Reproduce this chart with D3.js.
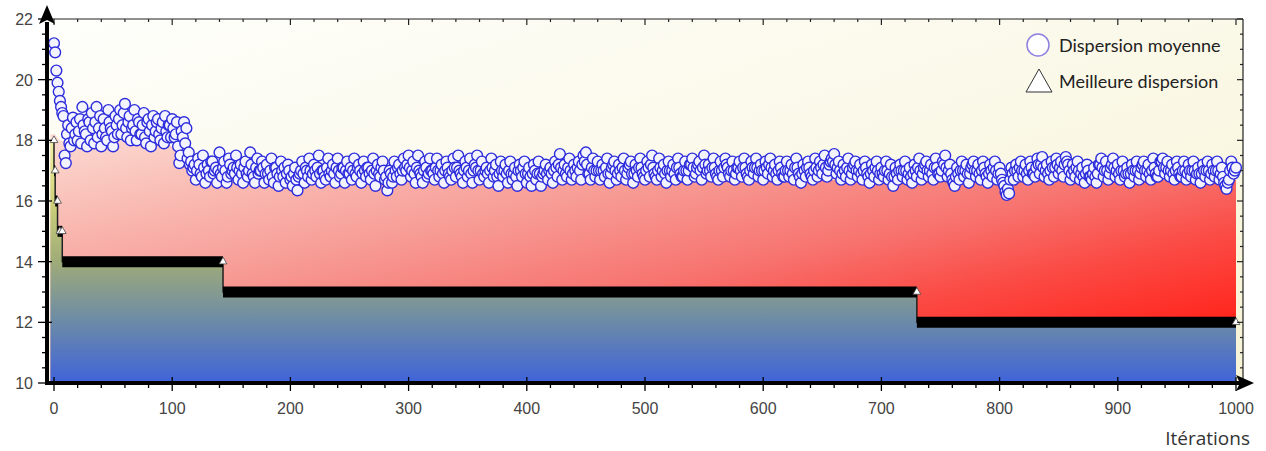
<!DOCTYPE html>
<html><head><meta charset="utf-8">
<script src="https://cdn.jsdelivr.net/npm/d3@7"></script>
<style>body{margin:0;background:#fff}svg{display:block}</style>
</head><body><svg id="c" width="1266" height="451"></svg>
<script>
// ---------- data ----------
// mean dispersion, even iterations 0,2,...,1000
const evenIterations = d3.range(0, 1001, 2);
const meanDispersionEven = [
21.2,20.3,19.6,19.1,18.8,17.25,18.5,17.8,18.75,18.2,
18.0,18.7,19.1,18.3,17.8,18.6,18.9,17.9,19.1,18.4,
17.8,18.7,18.1,19.0,18.4,17.8,18.8,18.2,19.0,18.5,
19.2,18.1,18.8,18.4,19.0,18.0,18.6,18.2,18.9,17.9,
18.7,17.8,18.8,18.3,18.7,18.0,18.6,18.8,18.1,18.5,
18.7,18.1,18.6,17.25,18.3,18.6,18.4,17.6,17.3,17.1,
16.7,17.4,16.9,17.5,16.6,17.2,16.8,17.3,17.0,16.6,
17.6,16.8,17.3,16.6,17.4,16.9,17.1,17.5,16.7,17.2,
16.6,17.3,16.8,17.6,16.9,16.6,17.4,17.0,17.3,16.6,
17.2,16.7,17.4,16.6,17.1,16.5,17.3,16.8,16.6,17.2,
16.7,16.5,17.1,16.35,16.9,17.3,16.6,17.0,17.4,16.7,
17.2,16.8,17.5,16.6,17.0,16.7,17.4,16.8,17.2,16.6,
17.4,16.8,17.1,16.6,17.3,16.9,16.7,17.4,16.8,17.2,
16.6,17.3,16.8,17.1,16.7,17.4,16.5,17.2,16.8,17.3,
16.7,16.35,17.0,16.6,17.3,16.8,17.2,16.7,17.4,17.0,
17.5,16.8,17.3,16.6,17.5,16.9,16.6,17.3,16.8,17.4,
17.0,16.7,17.4,16.8,17.2,16.6,17.3,16.9,16.7,17.4,
16.8,17.5,16.9,16.6,17.3,16.8,17.4,16.6,17.2,17.5,
16.7,17.3,16.8,17.1,16.6,17.4,16.8,17.2,16.5,17.3,
16.8,17.2,16.6,17.3,16.7,17.1,16.5,17.2,16.8,17.3,
16.6,17.1,16.5,17.2,16.7,17.3,16.5,16.9,17.2,16.7,
17.1,16.6,17.3,16.8,17.55,16.7,17.2,16.8,17.4,16.7,
17.2,16.8,17.3,16.7,17.5,17.6,16.9,16.7,17.4,16.8,
17.3,16.7,17.2,16.8,17.4,16.6,17.1,17.3,16.7,17.2,
16.8,17.4,16.7,17.1,17.3,16.6,17.2,16.8,17.4,16.9,
16.7,17.3,16.8,17.5,16.9,16.7,17.4,16.8,17.2,16.6,
17.3,16.8,17.2,16.7,17.4,16.9,16.8,17.3,16.7,17.2,
17.4,16.8,17.1,17.3,16.7,17.5,16.9,17.2,16.8,17.4,
16.9,16.7,17.3,16.8,17.4,17.1,16.8,17.3,16.7,17.1,
17.3,16.8,17.4,16.9,16.7,17.3,16.9,17.4,16.8,17.2,
16.7,17.3,16.9,17.4,16.8,17.2,16.7,17.3,16.9,16.8,
17.3,16.8,17.2,16.7,17.4,16.9,16.6,17.2,16.8,17.3,
16.9,16.7,17.4,16.8,17.3,16.9,17.5,16.8,17.2,17.4,
17.55,16.9,17.3,16.7,17.2,16.8,17.4,16.7,17.1,17.3,
16.8,17.2,16.7,17.3,16.9,16.6,17.2,16.8,17.3,16.7,
17.1,16.8,17.3,16.7,17.2,16.5,17.1,16.7,17.2,16.8,
17.3,16.7,17.1,16.6,17.2,16.8,17.4,16.7,17.1,17.3,
16.8,17.2,16.7,17.4,16.9,16.8,17.3,17.5,16.8,17.2,
16.7,16.5,17.1,16.7,17.3,16.8,17.2,16.6,17.1,17.3,
16.8,17.2,16.7,17.3,16.9,16.6,17.2,16.8,17.3,16.7,
17.1,16.7,16.5,16.2,16.25,17.1,16.7,17.2,16.8,17.3,
16.8,17.2,16.7,17.3,16.9,16.8,17.4,16.9,17.45,16.8,
17.2,16.7,17.3,16.8,17.4,16.9,17.3,16.8,17.45,17.2,
16.7,17.2,16.8,17.3,16.7,17.1,16.6,17.2,16.8,16.7,
17.1,16.6,17.2,17.4,16.8,17.3,16.7,17.1,17.4,16.8,
17.2,16.7,17.3,16.8,17.1,16.6,17.2,16.8,17.3,16.7,
17.1,17.3,16.8,17.2,16.7,17.4,16.9,16.8,17.3,17.4,
16.9,17.3,16.8,17.2,16.7,17.3,16.9,16.8,17.3,16.7,
17.2,16.8,17.3,16.7,17.1,16.6,17.2,16.8,17.3,16.7,
17.2,16.8,17.3,16.7,17.1,16.6,16.4,16.7,17.3,16.9,
17.1];
// mean dispersion, odd iterations 1,3,...,999
const oddIterations = d3.range(1, 1000, 2);
const meanDispersionOdd = [
20.9,19.9,19.3,18.9,17.5,18.2,17.9,18.4,18.0,18.6,
18.3,17.9,18.5,18.2,18.7,18.0,18.4,18.6,18.1,18.8,
18.2,18.4,18.0,18.6,18.3,18.1,18.5,18.7,18.2,18.9,
18.4,18.6,18.0,18.5,18.3,18.7,18.2,18.5,18.1,18.6,
18.3,18.5,18.1,18.6,18.2,18.4,17.9,18.3,18.5,18.1,
18.4,18.2,17.8,17.5,18.1,17.9,17.4,17.2,17.0,17.2,
17.0,17.2,16.8,17.1,16.9,17.0,17.3,16.9,17.1,17.0,
16.9,17.1,17.0,16.8,17.2,17.0,16.9,17.1,17.0,16.9,
17.1,16.9,17.0,17.2,16.8,17.1,16.9,17.0,17.1,16.9,
16.9,17.0,16.8,17.1,16.9,16.8,17.0,17.1,16.9,17.0,
16.8,16.9,16.7,16.8,17.0,16.9,17.1,16.8,17.0,16.9,
17.0,17.1,16.9,17.0,16.8,17.1,16.9,17.0,16.9,17.1,
17.0,16.9,17.1,17.0,16.9,17.1,17.0,16.9,17.1,17.0,
16.9,17.0,17.1,16.9,17.0,16.9,17.0,16.9,17.1,17.0,
16.8,16.6,16.9,16.8,17.0,17.1,16.9,17.0,17.1,17.2,
17.1,17.0,16.9,17.1,17.0,16.8,17.0,17.1,16.9,17.0,
16.9,17.1,17.0,17.0,16.9,17.0,17.1,16.8,17.0,17.1,
17.1,17.0,16.8,17.0,17.1,17.0,16.9,17.0,17.1,17.0,
17.0,16.9,17.0,16.9,17.0,17.1,17.0,16.8,16.9,17.0,
17.0,16.9,17.0,16.9,16.9,16.8,17.0,17.0,17.1,16.9,
16.9,16.8,16.9,17.0,16.9,16.9,16.8,17.0,16.9,17.0,
16.9,17.0,17.1,17.2,17.1,17.0,16.9,17.1,17.0,16.9,
17.0,17.1,17.0,17.2,17.3,17.2,16.9,17.1,17.0,17.0,
17.0,17.0,17.0,17.1,16.9,16.9,17.2,17.0,16.9,17.0,
17.1,17.0,16.9,17.2,16.9,16.9,17.0,17.1,17.1,16.8,
17.0,17.1,17.2,17.1,16.8,17.0,17.1,17.0,16.9,17.0,
17.0,17.0,16.9,17.1,17.1,16.8,17.0,17.0,17.0,17.2,
17.1,16.9,17.2,17.0,17.1,17.2,17.0,17.0,17.1,17.1,
16.8,17.0,17.0,17.1,17.2,16.9,17.0,17.0,16.9,17.1,
17.0,17.1,17.1,16.8,17.0,17.1,17.1,17.1,17.0,17.0,
17.0,17.1,17.2,17.1,17.0,16.9,17.0,17.1,16.8,17.0,
17.0,17.0,16.9,17.1,17.1,16.8,16.9,17.0,17.1,17.1,
16.8,17.0,17.1,17.0,17.1,17.2,17.1,17.0,17.3,17.3,
17.2,17.1,17.0,16.9,17.0,17.1,17.0,16.9,17.2,17.0,
17.0,16.9,17.0,17.1,16.8,16.9,17.0,17.1,17.0,16.9,
16.9,17.0,17.0,16.9,16.8,16.8,16.9,17.0,17.0,17.0,
17.0,16.9,16.8,16.9,17.0,17.1,17.0,16.9,17.2,17.0,
17.0,16.9,17.1,17.1,16.9,17.0,17.2,17.1,17.0,16.9,
16.6,16.8,16.9,17.0,17.0,17.0,16.9,16.9,17.2,17.0,
17.0,16.9,17.0,17.1,16.8,16.9,17.0,17.1,17.0,16.9,
16.9,16.6,16.3,16.4,16.7,16.9,17.0,17.0,17.1,17.0,
17.0,16.9,17.0,17.1,16.9,17.1,17.2,17.2,17.1,17.0,
16.9,17.0,17.1,17.1,17.2,17.1,17.0,17.2,17.3,17.0,
16.9,17.0,17.1,17.0,16.9,16.8,16.9,17.0,16.8,16.9,
16.8,16.9,17.2,17.1,17.0,17.0,16.9,17.2,17.1,17.0,
16.9,17.0,17.0,16.9,16.9,16.9,17.0,17.0,17.0,16.9,
17.2,17.0,17.0,16.9,17.0,17.1,16.8,17.0,17.3,17.1,
17.1,17.0,17.0,16.9,17.0,17.1,16.8,17.0,17.0,16.9,
17.0,17.0,17.0,16.9,16.9,16.9,17.0,17.0,17.0,16.9,
17.0,17.0,17.0,16.9,16.8,16.5,16.6,17.0,17.1,17.0];
const bestIterations = [0, 1, 3, 5, 7, 143, 730, 1000];
const bestDispersion = [18, 17, 16, 15, 15, 14, 13, 12];
const envelopeIterations = [-3, 0, 5, 20, 40, 60, 80, 95, 105, 115, 125, 150, 200, 300, 500, 700, 1000];
const envelopeValues = [18.2, 18.2, 18.0, 17.9, 17.95, 18.0, 18.0, 17.9, 17.6, 17.1, 16.85, 16.7, 16.6, 16.65, 16.7, 16.7, 16.7];
const xTickValues = d3.range(0, 1001, 100);
const xMinorValues = d3.range(0, 1001, 20);
const yTickValues = [10, 12, 14, 16, 18, 20, 22];
const yMinorValues = d3.range(10, 22.01, 0.5);
const seriesNames = ["Dispersion moyenne", "Meilleure dispersion"];
const xTitle = "Itérations";

// ---------- layout ----------
const svg = d3.select("#c");
const x = d3.scaleLinear().domain([0, 1000]).range([54, 1236]);
const y = d3.scaleLinear().domain([10, 22]).range([383, 19]);
const L = 47, R = 1243, T = 19, B = 383;

const defs = svg.append("defs");
const bg = defs.append("linearGradient").attr("id","bg").attr("x1",0).attr("y1",0).attr("x2",1).attr("y2",1);
bg.append("stop").attr("offset",0).attr("stop-color","#fefefb");
bg.append("stop").attr("offset",1).attr("stop-color","#f7f3d5");
const rg = defs.append("linearGradient").attr("id","rg").attr("x1",0).attr("y1",0).attr("x2",1).attr("y2",1);
[[0,"#fcdcd4"],[0.15,"#f9c0b8"],[0.35,"#f79c96"],[0.55,"#f77470"],[0.7,"#fb4a44"],[0.85,"#ff2a22"],[1,"#ff1010"]]
  .forEach(([o,c]) => rg.append("stop").attr("offset",o).attr("stop-color",c));
const gg = defs.append("linearGradient").attr("id","gg").attr("gradientUnits","userSpaceOnUse")
  .attr("x1",0).attr("x2",0).attr("y1",y(18.2)).attr("y2",y(10));
[[18.2,"#f6f3a6"],[16,"#cfd27a"],[14,"#9fab78"],[12,"#6b8aa8"],[10,"#3f63da"]]
  .forEach(([v,c]) => gg.append("stop").attr("offset",(y(v)-y(18.2))/(y(10)-y(18.2))).attr("stop-color",c));
defs.append("clipPath").attr("id","clip").append("rect").attr("x",L).attr("y",T).attr("width",R-L).attr("height",B-T);

svg.append("rect").attr("x",L).attr("y",T).attr("width",R-L).attr("height",B-T).attr("fill","url(#bg)");

const plot = svg.append("g").attr("clip-path","url(#clip)");

// red area under mean
const env = envelopeIterations.map((it,i)=>[it, envelopeValues[i]]);
plot.append("path").datum(env)
  .attr("d", d3.area().x(d=>x(d[0])).y0(y(10)).y1(d=>y(d[1])).curve(d3.curveMonotoneX))
  .attr("fill","url(#rg)");

// green/blue area under best
const best = bestIterations.map((it,i)=>[it, bestDispersion[i]]);
const bestArea = [[-3, bestDispersion[0]]].concat(best);
plot.append("path").datum(bestArea)
  .attr("d", d3.area().x(d=>x(d[0])).y0(y(10)).y1(d=>y(d[1])).curve(d3.curveStepBefore))
  .attr("fill","url(#gg)");

// thin step line
plot.append("path").datum(best)
  .attr("d", d3.line().x(d=>x(d[0])).y(d=>y(d[1])).curve(d3.curveStepBefore))
  .attr("fill","none").attr("stroke","#222").attr("stroke-width",1.5);

// thick horizontal bars
plot.selectAll("line.bar").data(best.slice(1).map((d,i)=>[best[i][0], d[0], d[1]]))
  .join("line").attr("class","bar")
  .attr("x1",d=>x(d[0])).attr("x2",d=>x(d[1])).attr("y1",d=>y(d[2])).attr("y2",d=>y(d[2]))
  .attr("stroke","#000").attr("stroke-width",11);

// mean circles (interleaved by iteration)
const meanPts = evenIterations.map((it,i)=>[it, meanDispersionEven[i]])
  .concat(oddIterations.map((it,i)=>[it, meanDispersionOdd[i]]))
  .sort((a,b)=>a[0]-b[0]);
plot.selectAll("circle.m").data(meanPts)
  .join("circle").attr("class","m")
  .attr("cx",d=>x(d[0])).attr("cy",d=>y(d[1])).attr("r",5.4)
  .attr("fill","#f3f3ff").attr("stroke","#2c2cdc").attr("stroke-width",1.4);

// triangles
svg.selectAll("path.tri").data(best).join("path").attr("class","tri")
  .attr("transform",d=>`translate(${x(d[0])},${y(d[1])})`)
  .attr("d", d3.symbol(d3.symbolTriangle, 26))
  .attr("fill","#fff").attr("stroke","#444").attr("stroke-width",0.8);

// ---------- frame ----------
const frame = svg.append("g").attr("stroke","#222").attr("fill","none");
frame.append("line").attr("x1",L).attr("x2",R).attr("y1",T).attr("y2",T).attr("stroke-width",1.2);
frame.append("line").attr("x1",R).attr("x2",R).attr("y1",T).attr("y2",B).attr("stroke-width",1.2);
frame.selectAll("line.tt").data(xMinorValues).join("line").attr("class","tt")
  .attr("x1",d=>x(d)).attr("x2",d=>x(d)).attr("y1",T).attr("y2",d=>T+(d%100===0?6:3)).attr("stroke-width",1.2);
frame.selectAll("line.rt").data(yMinorValues).join("line").attr("class","rt")
  .attr("y1",d=>y(d)).attr("y2",d=>y(d)).attr("x1",R).attr("x2",d=>R-(d%2===0?6:3)).attr("stroke-width",1.2);

// ---------- axes ----------
const ax = svg.append("g");
ax.append("line").attr("x1",45.5).attr("x2",1240).attr("y1",B).attr("y2",B).attr("stroke","#000").attr("stroke-width",4);
ax.append("path").attr("d",`M1254,${B} L1236,${B-8} L1240,${B} L1236,${B+8} Z`).attr("fill","#000");
ax.selectAll("line.xm").data(xMinorValues).join("line").attr("class","xm")
  .attr("x1",d=>x(d)).attr("x2",d=>x(d)).attr("y1",d=>d%100===0?B-6:B).attr("y2",d=>B+(d%100===0?8:5))
  .attr("stroke","#000").attr("stroke-width",1.3);
ax.selectAll("text.xl").data(xTickValues).join("text").attr("class","xl")
  .attr("x",d=>x(d)).attr("y",414).attr("text-anchor","middle")
  .attr("font-family","Liberation Sans, Arial, sans-serif").attr("font-size",16).attr("fill","#444")
  .text(d=>d);
ax.append("line").attr("x1",L).attr("x2",L).attr("y1",B+2).attr("y2",22).attr("stroke","#000").attr("stroke-width",4);
ax.append("path").attr("d",`M${L},5 L${L-8},24 L${L},20 L${L+8},24 Z`).attr("fill","#000");
ax.selectAll("line.ym").data(yMinorValues).join("line").attr("class","ym")
  .attr("y1",d=>y(d)).attr("y2",d=>y(d)).attr("x1",d=>d%2===0?38:42).attr("x2",d=>d%2===0?L+5:L)
  .attr("stroke","#000").attr("stroke-width",1.3);
ax.selectAll("text.yl").data(yTickValues).join("text").attr("class","yl")
  .attr("x",33).attr("y",d=>y(d)+6).attr("text-anchor","end")
  .attr("font-family","Liberation Sans, Arial, sans-serif").attr("font-size",16).attr("fill","#444")
  .text(d=>d);

svg.append("text").attr("x",1250).attr("y",445).attr("text-anchor","end")
  .attr("font-family","Open Sans, sans-serif").attr("font-size",19).attr("fill","#333").text(xTitle);

// ---------- legend ----------
const lg = svg.append("g");
lg.append("circle").attr("cx",1038).attr("cy",45).attr("r",11)
  .attr("fill","#fff").attr("stroke","#8f80e0").attr("stroke-width",1.5);
lg.append("path").attr("d","M1026,92 L1052,92 L1039,69 Z").attr("fill","#fff").attr("stroke","#333").attr("stroke-width",1);
lg.selectAll("text").data(seriesNames).join("text")
  .attr("x",1059).attr("y",(d,i)=>52+i*36)
  .attr("font-family","Lato, sans-serif").attr("font-size",18).attr("fill","#222")
  .text(d=>d);
</script></body></html>
